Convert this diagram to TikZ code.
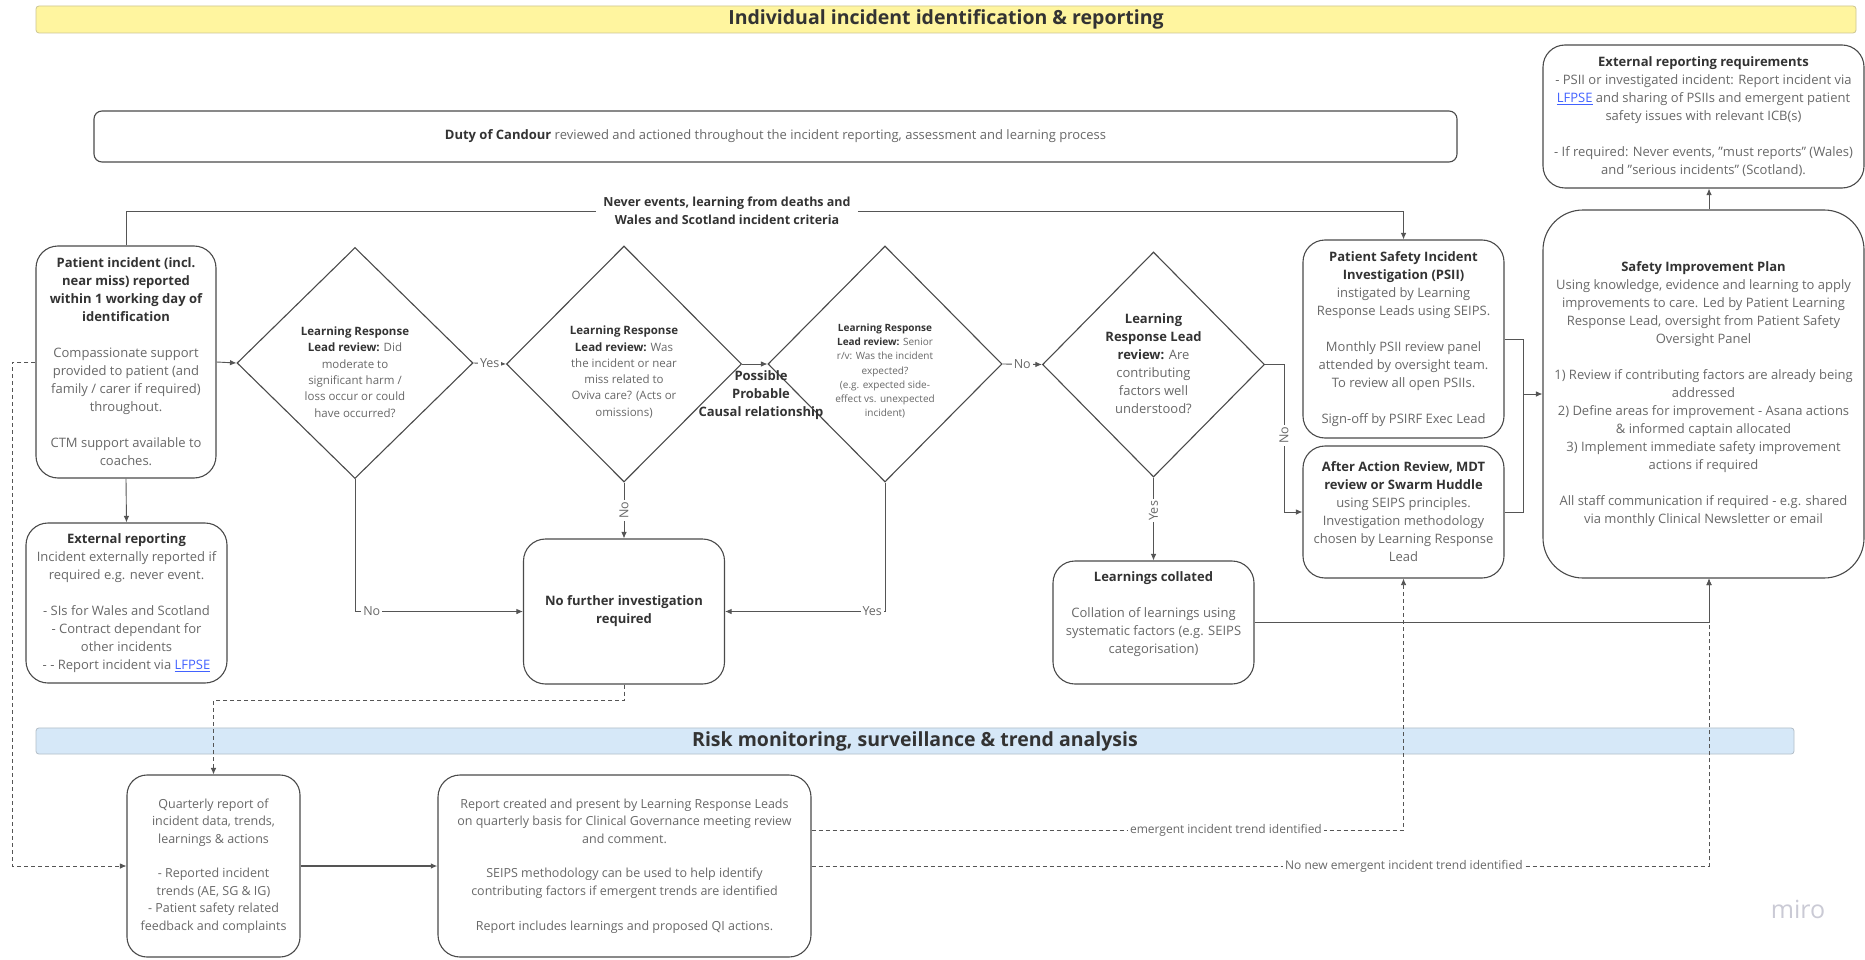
\documentclass[tikz,border=0pt]{standalone}
\usepackage{fontspec}
\setmainfont{Open Sans}
\usetikzlibrary{shapes.geometric,arrows.meta}
\definecolor{ink}{HTML}{333333}
\definecolor{body}{HTML}{686868}
\definecolor{edge}{HTML}{4A4A4A}
\definecolor{wire}{HTML}{555555}
\definecolor{bannery}{HTML}{FFF59F}
\definecolor{bannerb}{HTML}{D6E8F8}
\definecolor{linkblue}{HTML}{4262FF}
\newcommand{\hd}[1]{{\color{ink}\bfseries #1}}
\newcommand{\lnk}[1]{{\color{linkblue}\underline{#1}}}
\newcommand{\gap}{\\[\baselineskip]}

\begin{document}
\begin{tikzpicture}[x=1pt, y=-1pt,
    box/.style={draw=edge, line width=1.1pt, rounded corners=22pt, align=center, text=body,
        inner sep=0pt, font=\fontsize{13}{18}\selectfont},
    lowbox/.style={box, font=\fontsize{12.5}{17.4}\selectfont},
    dia/.style={draw=edge, line width=1.1pt, shape=diamond, inner sep=0pt},
    dtext/.style={align=center, text=body, inner sep=0pt},
    flow/.style={draw=wire, line width=0.9pt, -{Latex[length=6.5pt,width=5.5pt]}},
    link/.style={draw=wire, line width=0.9pt},
    dashlink/.style={draw=wire, line width=0.8pt, dash pattern=on 4pt off 3pt},
    lbl/.style={fill=white, text=body, inner sep=2pt, font=\fontsize{12.5}{14}\selectfont},
    banner/.style={line width=0.8pt, rounded corners=3pt, text=ink, font=\fontsize{19.5}{22}\selectfont\bfseries}]

    \fill[white] (0,0) rectangle (1865,960);
    \useasboundingbox (0,0) rectangle (1865,960);

    % section banners
    \node[banner, fill=bannery, draw=bannery!60!gray, minimum width=1820, minimum height=27] (topban) at (946,19.5) {Individual incident identification \& reporting};
    \node[banner, fill=bannerb, draw=bannerb!60!gray, minimum width=1758, minimum height=26] (lowban) at (915,741) {Risk monitoring, surveillance \& trend analysis};

    \node[box, rounded corners=8pt, minimum width=1363, minimum height=51] (duty) at (775.5,136.5) {\hd{Duty of Candour} reviewed and actioned throughout the incident reporting, assessment and learning process};

    % left column
    \node[box, minimum width=180, minimum height=232] (pat) at (126,362)
        {\hd{Patient incident (incl.}\\\hd{near miss) reported}\\\hd{within 1 working day of}\\\hd{identification}\gap
         Compassionate support\\provided to patient (and\\family / carer if required)\\throughout.\gap
         CTM support available to\\coaches.};
    \node[box, minimum width=201, minimum height=160] (extrep) at (126.5,603)
        {\hd{External reporting}\\Incident externally reported if\\required e.g. never event.\gap
         - SIs for Wales and Scotland\\- Contract dependant for\\other incidents\\- - Report incident via \lnk{LFPSE}};

    % decisions
    \node[dia, minimum width=236, minimum height=231] (d1) at (355,363) {};
    \node[dtext, font=\fontsize{11.5}{16.3}\selectfont] (d1t) at (355,372)
        {\hd{Learning Response}\\\hd{Lead review:} Did\\moderate to\\significant harm /\\loss occur or could\\have occurred?};
    \node[dia, minimum width=235, minimum height=236] (d2) at (624,364) {};
    \node[dtext, font=\fontsize{11.5}{16.3}\selectfont] (d2t) at (624,372)
        {\hd{Learning Response}\\\hd{Lead review:} Was\\the incident or near\\miss related to\\Oviva care? (Acts or\\omissions)};
    \node[dia, minimum width=234, minimum height=236] (d3) at (885,364) {};
    \node[dtext, font=\fontsize{10}{14.3}\selectfont] (d3t) at (885,371)
        {\hd{Learning Response}\\\hd{Lead review:} Senior\\r/v: Was the incident\\expected?\\(e.g. expected side-\\effect vs. unexpected\\incident)};
    \node[dia, minimum width=222, minimum height=225] (d4) at (1153.5,364.5) {};
    \node[dtext, font=\fontsize{13}{18}\selectfont] (d4t) at (1153.5,364)
        {\hd{Learning}\\\hd{Response Lead}\\\hd{review:} Are\\contributing\\factors well\\understood?};

    \node[align=center, text=ink, font=\fontsize{13}{18}\selectfont\bfseries, inner sep=0pt] (causal) at (761,395)
        {Possible\\Probable\\Causal relationship};
    \node[align=center, text=ink, font=\fontsize{12.5}{18}\selectfont\bfseries, inner sep=7pt] (never) at (727,211)
        {Never events, learning from deaths and\\Wales and Scotland incident criteria};

    \node[box, minimum width=201, minimum height=145] (nfi) at (624,611.5) {\hd{No further investigation}\\\hd{required}};

    % investigation and learning
    \node[box, minimum width=201, minimum height=198] (psii) at (1403.5,339)
        {\hd{Patient Safety Incident}\\\hd{Investigation (PSII)}\\instigated by Learning\\Response Leads using SEIPS.\gap
         Monthly PSII review panel\\attended by oversight team.\\To review all open PSIIs.\gap
         Sign-off by PSIRF Exec Lead};
    \node[box, minimum width=201, minimum height=132] (aar) at (1403.5,512)
        {\hd{After Action Review, MDT}\\\hd{review or Swarm Huddle}\\using SEIPS principles.\\Investigation methodology\\chosen by Learning Response\\Lead};
    \node[box, minimum width=201, minimum height=123] (learn) at (1153.5,622.5) {};
    \node[dtext, font=\fontsize{13}{18}\selectfont] (learnt) at (1153.5,614)
        {\hd{Learnings collated}\gap Collation of learnings using\\systematic factors (e.g. SEIPS\\categorisation)};

    % right column
    \node[box, minimum width=321, minimum height=143] (extreq) at (1703.5,116.5)
        {\hd{External reporting requirements}\\- PSII or investigated incident: Report incident via\\\lnk{LFPSE} and sharing of PSIIs and emergent patient\\safety issues with relevant ICB(s)\gap
         - If required: Never events, "must reports" (Wales)\\and "serious incidents" (Scotland).};
    \node[box, rounded corners=40pt, minimum width=321, minimum height=368] (sip) at (1703.5,394)
        {\hd{Safety Improvement Plan}\\Using knowledge, evidence and learning to apply\\improvements to care. Led by Patient Learning\\Response Lead, oversight from Patient Safety\\Oversight Panel\gap
         1) Review if contributing factors are already being\\addressed\\2) Define areas for improvement - Asana actions\\\& informed captain allocated\\3) Implement immediate safety improvement\\actions if required\gap
         All staff communication if required - e.g. shared\\via monthly Clinical Newsletter or email};

    % monitoring
    \node[lowbox, rounded corners=20pt, minimum width=173, minimum height=182] (quart) at (213.5,866)
        {Quarterly report of\\incident data, trends,\\learnings \& actions\gap
         - Reported incident\\trends (AE, SG \& IG)\\- Patient safety related\\feedback and complaints};
    \node[lowbox, minimum width=373, minimum height=182] (report) at (624.5,866)
        {Report created and present by Learning Response Leads\\on quarterly basis for Clinical Governance meeting review\\and comment.\gap
         SEIPS methodology can be used to help identify\\contributing factors if emergent trends are identified\gap
         Report includes learnings and proposed QI actions.};

    \node[text=gray!40!blue!10!white!70!gray, font=\fontsize{25}{27}\selectfont] (miro) at (1798,909) {miro};

    % connectors
    \draw[flow] (pat.east) -- (d1.west);
    \draw[flow] (pat.south) -- (extrep.north);
    \draw[link] (pat.north) |- (never.west);
    \draw[flow] (never.east) -| (psii.north);
    \draw[flow] (d1.east) -- node[lbl] {Yes} (d2.west);
    \draw[flow] (d2.east) -- (d3.west);
    \draw[flow] (d3.east) -- node[lbl] {No} (d4.west);
    \draw[flow] (d1.south) |- node[lbl, pos=0.55] {No} (nfi.west);
    \draw[flow] (d2.south) -- node[lbl, rotate=90] {No} (nfi.north);
    \draw[flow] (d3.south) |- node[lbl, pos=0.54] {Yes} (nfi.east);
    \draw[flow] (d4.east) -- ++(19,0) |- node[lbl, rotate=90, pos=0.24] {No} (aar.west);
    \draw[flow] (d4.south) -- node[lbl, rotate=90, pos=0.4] {Yes} (learn.north);

    \coordinate (join) at (1523,394);
    \draw[link] (psii.east) -| (join);
    \draw[link] (aar.east) -| (join);
    \draw[flow] (join) -- (sip.west);
    \draw[flow] (learn.east) -| ([xshift=5.5pt]sip.south);
    \draw[flow] ([xshift=5.5pt]sip.north) -- ([xshift=5.5pt]extreq.south);

    \draw[dashlink, -{Latex[length=6.5pt,width=5.5pt]}] (pat.west) -- ++(-23,0) |- (quart.west);
    \draw[dashlink, -{Latex[length=6.5pt,width=5.5pt]}] (nfi.south) -- ++(0,16) -| (quart.north);
    \draw[flow, line width=1.3pt] (quart.east) -- (report.west);
    \draw[dashlink, -{Latex[length=6.5pt,width=5.5pt]}] ([yshift=36pt]report.east) -| node[lbl, pos=0.35, font=\fontsize{12}{14}\selectfont] {emergent incident trend identified} (aar.south);
    \draw[dashlink, -{Latex[length=6.5pt,width=5.5pt]}] (report.east) -| node[lbl, pos=0.33, font=\fontsize{12}{14}\selectfont] {No new emergent incident trend identified} ([xshift=5.5pt]sip.south);
\end{tikzpicture}
\end{document}
